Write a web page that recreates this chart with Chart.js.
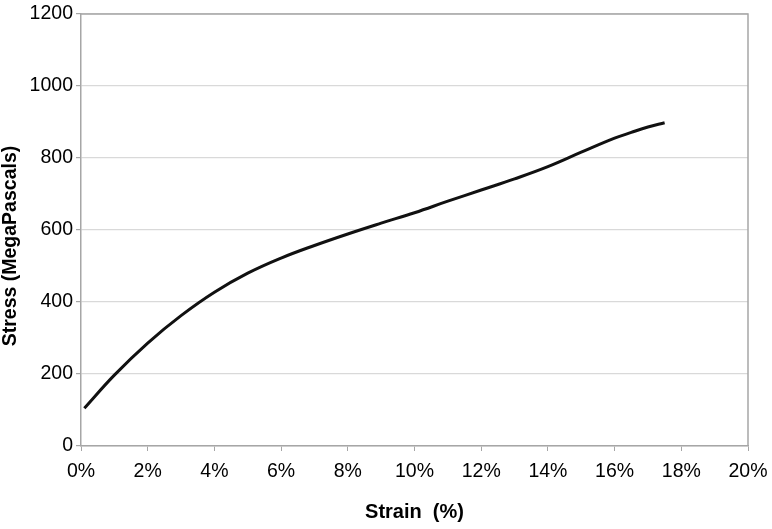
<!DOCTYPE html>
<html>
<head>
<meta charset="utf-8">
<script src="https://cdn.jsdelivr.net/npm/chart.js@4"></script>
<style>
html,body{margin:0;padding:0;background:#fff;}
#wrap{width:772px;height:529px;position:relative;}
</style>
</head>
<body>
<div id="wrap"><canvas id="c" width="772" height="529"></canvas></div>
<script>
const strainPct = [0.1, 1, 2, 3, 4, 5, 6, 7, 8, 9, 10, 11, 12, 13, 14, 15, 16, 16.5, 17, 17.5];
const stressMPa = [105, 197, 286, 362, 427, 480, 522, 557, 589, 619, 648, 680, 711, 742, 776, 816, 855, 871, 886, 898];
const xTicks = [0, 2, 4, 6, 8, 10, 12, 14, 16, 18, 20];
const yTicks = [0, 200, 400, 600, 800, 1000, 1200];
const xTitle = 'Strain  (%)';
const yTitle = 'Stress (MegaPascals)';

const pts = strainPct.map((x, i) => ({x: x, y: stressMPa[i]}));
const FONT = 'Liberation Sans, Arial, sans-serif';

const frame = {
  id: 'frame',
  afterDraw(chart) {
    const a = chart.chartArea, ctx = chart.ctx;
    ctx.save();
    ctx.strokeStyle = '#a6a6a6';
    ctx.lineWidth = 1.5;
    ctx.beginPath();
    ctx.moveTo(a.left, a.top);
    ctx.lineTo(a.right, a.top);
    ctx.lineTo(a.right, a.bottom);
    ctx.stroke();
    // y-axis title
    ctx.translate(11, 246);
    ctx.rotate(-Math.PI / 2);
    ctx.fillStyle = '#000';
    ctx.font = 'bold 19.5px ' + FONT;
    ctx.textAlign = 'center';
    ctx.textBaseline = 'middle';
    ctx.fillText(yTitle, 0, 0);
    ctx.restore();
  }
};

new Chart(document.getElementById('c'), {
  type: 'scatter',
  data: {
    datasets: [{
      data: pts,
      showLine: true,
      borderColor: '#111111',
      borderWidth: 3,
      pointRadius: 0,
      tension: 0.4,
      fill: false
    }]
  },
  options: {
    responsive: false,
    animation: false,
    layout: {padding: {left: 0, right: 24, top: 14, bottom: 0}},
    plugins: {legend: {display: false}, tooltip: {enabled: false}},
    scales: {
      x: {
        type: 'linear', min: 0, max: 20,
        afterBuildTicks: s => { s.ticks = xTicks.map(v => ({value: v})); },
        afterFit: s => { s.height = 83; s.paddingLeft = 0; s.paddingRight = 0; },
        ticks: {
          callback: v => v + '%',
          color: '#000', font: {family: FONT, size: 19.5},
          padding: 9, maxRotation: 0
        },
        grid: {drawOnChartArea: false, drawTicks: true, tickLength: 5, tickColor: '#a6a6a6'},
        border: {color: '#a6a6a6', width: 1.5},
        title: {display: true, text: xTitle, color: '#000',
          font: {family: FONT, size: 20, weight: 'bold'}, padding: {top: 0, bottom: 5}}
      },
      y: {
        type: 'linear', min: 0, max: 1200,
        afterBuildTicks: s => { s.ticks = yTicks.map(v => ({value: v})); },
        afterFit: s => { s.width = 81; s.paddingTop = 0; s.paddingBottom = 0; },
        ticks: {
          callback: v => String(v),
          color: '#000', font: {family: FONT, size: 19.5},
          padding: 3
        },
        grid: {color: '#d9d9d9', lineWidth: 1.2, drawTicks: true, tickLength: 5, tickColor: '#a6a6a6'},
        border: {color: '#a6a6a6', width: 1.5}
      }
    }
  },
  plugins: [frame]
});
</script>
</body>
</html>
